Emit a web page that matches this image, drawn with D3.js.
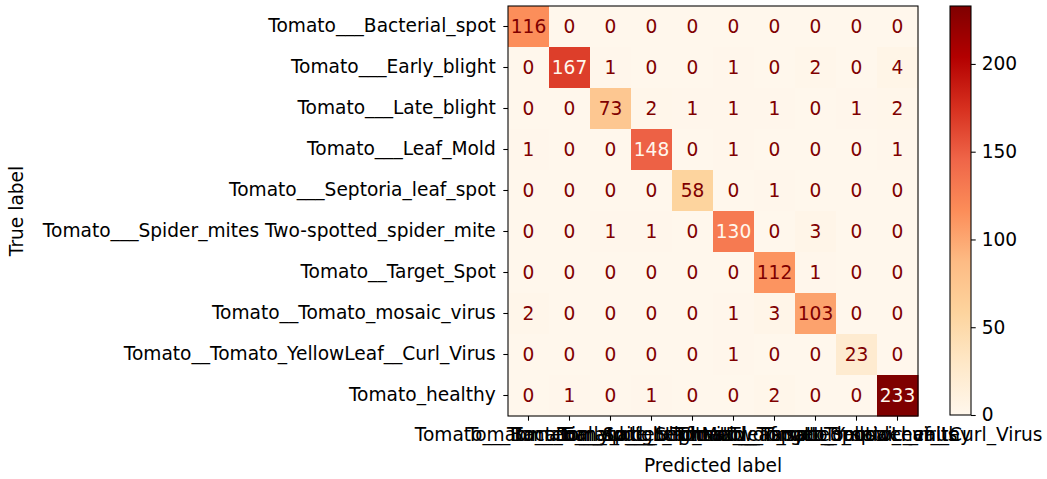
<!DOCTYPE html>
<html>
<head>
<meta charset="utf-8">
<script src="https://cdn.jsdelivr.net/npm/d3@7"></script>
<style>
  html, body { margin: 0; padding: 0; background: #fff; }
  svg { display: block; font-family: "DejaVu Sans", sans-serif; }
</style>
</head>
<body>
<svg id="chart" width="1047" height="479"></svg>
<script>
// Class names (rows = true label, columns = predicted label)
const classes = [
  "Tomato___Bacterial_spot",
  "Tomato___Early_blight",
  "Tomato___Late_blight",
  "Tomato___Leaf_Mold",
  "Tomato___Septoria_leaf_spot",
  "Tomato___Spider_mites Two-spotted_spider_mite",
  "Tomato__Target_Spot",
  "Tomato__Tomato_mosaic_virus",
  "Tomato__Tomato_YellowLeaf__Curl_Virus",
  "Tomato_healthy"
];

// Confusion matrix counts, one array per true class
const row0 = [116, 0, 0, 0, 0, 0, 0, 0, 0, 0];
const row1 = [0, 167, 1, 0, 0, 1, 0, 2, 0, 4];
const row2 = [0, 0, 73, 2, 1, 1, 1, 0, 1, 2];
const row3 = [1, 0, 0, 148, 0, 1, 0, 0, 0, 1];
const row4 = [0, 0, 0, 0, 58, 0, 1, 0, 0, 0];
const row5 = [0, 0, 1, 1, 0, 130, 0, 3, 0, 0];
const row6 = [0, 0, 0, 0, 0, 0, 112, 1, 0, 0];
const row7 = [2, 0, 0, 0, 0, 1, 3, 103, 0, 0];
const row8 = [0, 0, 0, 0, 0, 1, 0, 0, 23, 0];
const row9 = [0, 1, 0, 1, 0, 0, 2, 0, 0, 233];
const matrix = [row0, row1, row2, row3, row4, row5, row6, row7, row8, row9];

const colorbarTicks = [0, 50, 100, 150, 200];

// OrRd colour stops (piecewise linear, as in matplotlib)
const orrd = ["#fff7ec", "#fee8c8", "#fdd49e", "#fdbb84", "#fc8d59",
              "#ef6548", "#d7301f", "#b30000", "#7f0000"];

const svg = d3.select("#chart");
const fontSize = 18.6;
const tickLen = 4.7;
const lineW = 1.07;

const plot = { x: 508, y: 6, size: 410 };
const allVals = matrix.flat();
const vmin = d3.min(allVals), vmax = d3.max(allVals);
const thresh = (vmin + vmax) / 2;

const stopScale = d3.scaleLinear()
  .domain(orrd.map((_, i) => vmin + (vmax - vmin) * i / (orrd.length - 1)))
  .range(orrd)
  .interpolate(d3.interpolateRgb)
  .clamp(true);

const x = d3.scaleBand().domain(d3.range(classes.length))
  .range([plot.x, plot.x + plot.size]);
const y = d3.scaleBand().domain(d3.range(classes.length))
  .range([plot.y, plot.y + plot.size]);

// Cells
const cells = [];
matrix.forEach((row, r) => row.forEach((v, c) => cells.push({ r, c, v })));

svg.append("g").selectAll("rect").data(cells).join("rect")
  .attr("x", d => x(d.c))
  .attr("y", d => y(d.r))
  .attr("width", x.bandwidth() + 0.5)
  .attr("height", y.bandwidth() + 0.5)
  .attr("fill", d => stopScale(d.v));

svg.append("g").selectAll("text").data(cells).join("text")
  .attr("x", d => x(d.c) + x.bandwidth() / 2)
  .attr("y", d => y(d.r) + y.bandwidth() / 2)
  .attr("dy", "0.36em")
  .attr("text-anchor", "middle")
  .attr("font-size", fontSize)
  .attr("fill", d => d.v < thresh ? orrd[orrd.length - 1] : orrd[0])
  .text(d => d.v);

// Axes
const xAxis = d3.axisBottom(x).tickSize(tickLen).tickPadding(7.5)
  .tickFormat(i => classes[i]);
const yAxis = d3.axisLeft(y).tickSize(tickLen).tickPadding(7.5)
  .tickFormat(i => classes[i]);

const gx = svg.append("g")
  .attr("transform", `translate(0,${plot.y + plot.size})`)
  .call(xAxis);
const gy = svg.append("g")
  .attr("transform", `translate(${plot.x},0)`)
  .call(yAxis);

[gx, gy].forEach(g => {
  g.select(".domain").remove();
  g.selectAll(".tick line").attr("stroke", "#000").attr("stroke-width", lineW);
  g.selectAll(".tick text").attr("font-size", fontSize)
    .attr("font-family", "DejaVu Sans").attr("fill", "#000");
});

// Frame around the matrix
svg.append("rect")
  .attr("x", plot.x).attr("y", plot.y)
  .attr("width", plot.size).attr("height", plot.size)
  .attr("fill", "none").attr("stroke", "#000").attr("stroke-width", lineW);

// Axis titles
svg.append("text")
  .attr("x", plot.x + plot.size / 2).attr("y", 472)
  .attr("text-anchor", "middle").attr("font-size", fontSize)
  .text("Predicted label");

svg.append("text")
  .attr("transform", `translate(23,${plot.y + plot.size / 2}) rotate(-90)`)
  .attr("text-anchor", "middle").attr("font-size", fontSize)
  .text("True label");

// Colorbar
const cb = { x: 950, y: 6, w: 21, h: 409 };
const defs = svg.append("defs");
const grad = defs.append("linearGradient").attr("id", "cbgrad")
  .attr("x1", 0).attr("y1", 1).attr("x2", 0).attr("y2", 0);
grad.selectAll("stop").data(orrd).join("stop")
  .attr("offset", (_, i) => i / (orrd.length - 1))
  .attr("stop-color", d => d);

svg.append("rect")
  .attr("x", cb.x).attr("y", cb.y).attr("width", cb.w).attr("height", cb.h)
  .attr("fill", "url(#cbgrad)");

const cbScale = d3.scaleLinear().domain([vmin, vmax]).range([cb.y + cb.h, cb.y]);
const gcb = svg.append("g")
  .attr("transform", `translate(${cb.x + cb.w},0)`)
  .call(d3.axisRight(cbScale).tickValues(colorbarTicks).tickSize(tickLen).tickPadding(6));
gcb.select(".domain").remove();
gcb.selectAll(".tick line").attr("stroke", "#000").attr("stroke-width", lineW);
gcb.selectAll(".tick text").attr("font-size", fontSize)
  .attr("font-family", "DejaVu Sans").attr("fill", "#000");

svg.append("rect")
  .attr("x", cb.x).attr("y", cb.y).attr("width", cb.w).attr("height", cb.h)
  .attr("fill", "none").attr("stroke", "#000").attr("stroke-width", lineW);
</script>
</body>
</html>
